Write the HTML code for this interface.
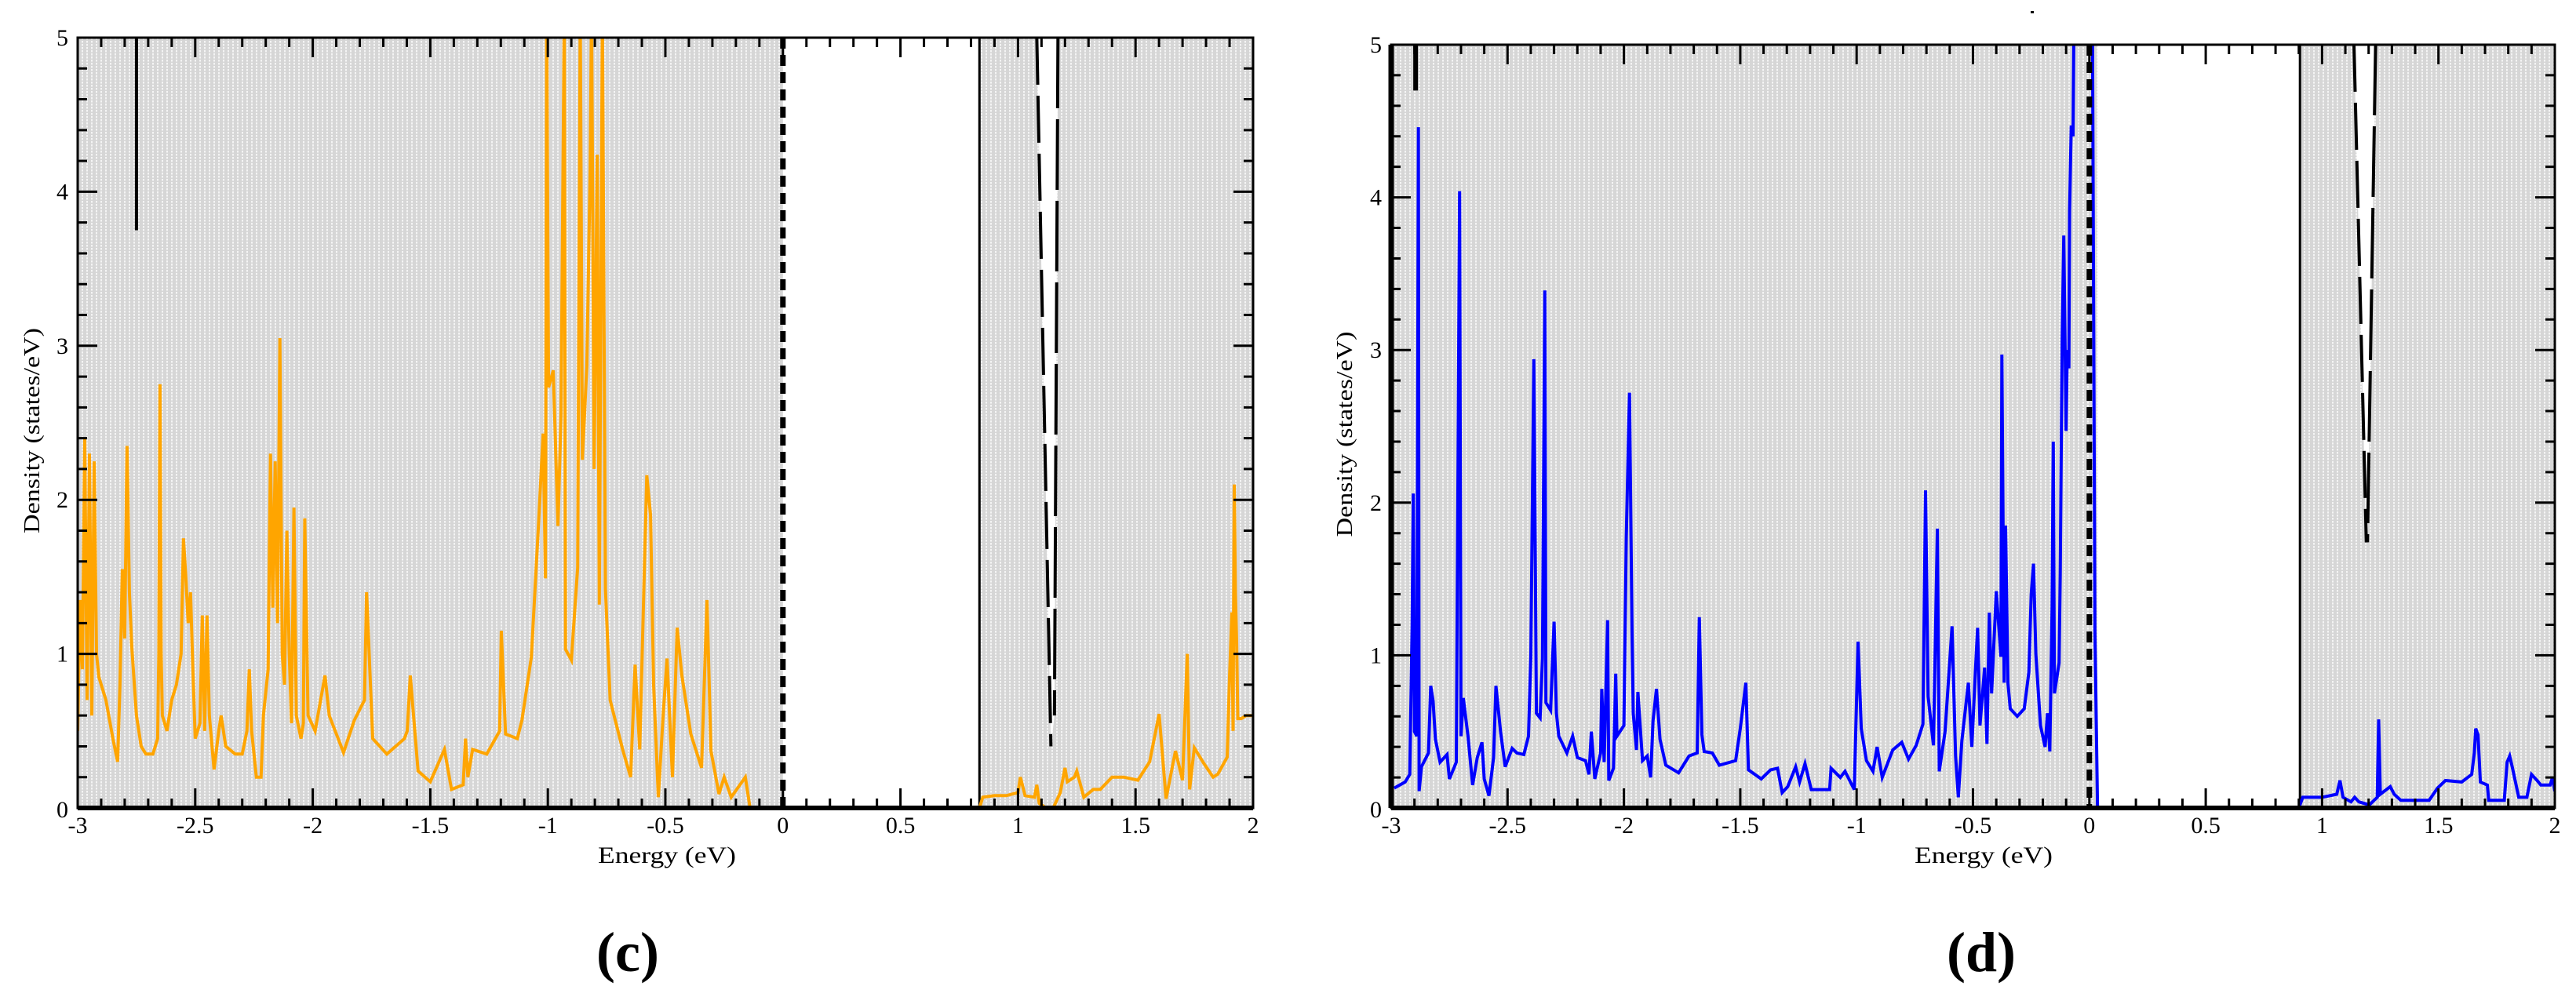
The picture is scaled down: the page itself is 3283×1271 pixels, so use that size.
<!DOCTYPE html>
<html><head><meta charset="utf-8"><style>
html,body{margin:0;padding:0;background:#fff;}
svg{display:block;}
</style></head><body>
<svg id="fig" width="3283" height="1271" viewBox="0 0 3283 1271" xmlns="http://www.w3.org/2000/svg">
<defs>
<pattern id="stip" width="6" height="4" patternUnits="userSpaceOnUse">
<rect width="6" height="4" fill="#d6d6d6"/><rect x="2" y="0" width="2" height="2" fill="#f4f4f4"/><rect x="2" y="2" width="2" height="1" fill="#e6e6e6"/>
</pattern>
</defs>
</svg>
<script>
// ---------- data ----------
const xTickLabels = ["-3","-2.5","-2","-1.5","-1","-0.5","0","0.5","1","1.5","2"];
const xTickValues = [-3,-2.5,-2,-1.5,-1,-0.5,0,0.5,1,1.5,2];
const yTickLabels = ["0","1","2","3","4","5"];
const yTickValues = [0,1,2,3,4,5];

const cE = [-3.00,-2.99,-2.98,-2.97,-2.96,-2.95,-2.94,-2.93,-2.92,-2.91,-2.88,-2.85,-2.83,-2.82,-2.81,-2.80,-2.79,-2.78,-2.77,-2.75,-2.73,-2.71,-2.68,-2.66,-2.655,-2.65,-2.645,-2.64,-2.62,-2.60,-2.58,-2.56,-2.55,-2.54,-2.53,-2.52,-2.51,-2.50,-2.48,-2.47,-2.46,-2.45,-2.44,-2.42,-2.40,-2.39,-2.37,-2.33,-2.30,-2.28,-2.27,-2.26,-2.24,-2.22,-2.21,-2.19,-2.18,-2.17,-2.16,-2.15,-2.14,-2.13,-2.12,-2.11,-2.10,-2.09,-2.08,-2.07,-2.05,-2.04,-2.034,-2.02,-1.99,-1.948,-1.93,-1.869,-1.823,-1.78,-1.771,-1.745,-1.685,-1.61,-1.598,-1.585,-1.552,-1.50,-1.44,-1.41,-1.36,-1.35,-1.34,-1.32,-1.26,-1.205,-1.198,-1.18,-1.13,-1.11,-1.07,-1.04,-1.02,-1.01,-1.005,-0.997,-0.977,-0.957,-0.944,-0.93,-0.925,-0.90,-0.873,-0.862,-0.853,-0.834,-0.82,-0.814,-0.803,-0.79,-0.781,-0.768,-0.755,-0.735,-0.682,-0.648,-0.629,-0.609,-0.579,-0.563,-0.55,-0.53,-0.51,-0.493,-0.47,-0.45,-0.43,-0.392,-0.346,-0.323,-0.306,-0.272,-0.25,-0.22,-0.16,-0.14,
 null,
 0.836,0.85,0.90,0.95,1.00,1.01,1.03,1.07,1.08,1.09,1.12,1.15,1.18,1.20,1.21,1.24,1.25,1.28,1.32,1.35,1.40,1.45,1.51,1.56,1.60,1.63,1.67,1.70,1.72,1.73,1.75,1.79,1.83,1.85,1.89,1.90,1.91,1.915,1.92,1.925,1.93,1.935,1.95,1.97,2.00];
const cD = [0.5,1.35,0.9,2.4,0.7,2.3,0.6,2.25,1.0,0.85,0.7,0.45,0.3,0.8,1.55,1.1,2.35,1.4,1.05,0.6,0.4,0.35,0.35,0.45,1.0,2.75,1.0,0.6,0.5,0.7,0.8,1.0,1.75,1.5,1.2,1.4,0.9,0.45,0.55,1.25,0.5,1.25,0.6,0.25,0.5,0.6,0.4,0.35,0.35,0.5,0.9,0.5,0.2,0.2,0.6,0.9,2.3,1.3,2.25,1.2,3.05,1.0,0.8,1.8,1.0,0.55,1.95,0.6,0.45,0.55,1.88,0.6,0.5,0.86,0.6,0.36,0.57,0.7,1.40,0.45,0.35,0.45,0.50,0.86,0.24,0.17,0.38,0.12,0.15,0.45,0.2,0.38,0.35,0.5,1.15,0.48,0.45,0.57,0.98,1.83,2.43,1.49,5.2,2.73,2.84,1.83,2.55,5.2,1.03,0.96,1.56,5.2,2.26,2.87,4.14,5.2,2.2,4.24,1.32,5.2,1.42,0.7,0.38,0.2,0.93,0.38,2.16,1.9,0.8,0.07,0.59,0.97,0.2,1.17,0.86,0.48,0.26,1.35,0.37,0.09,0.2,0.07,0.2,0.0,
 null,
 0.0,0.07,0.08,0.08,0.1,0.2,0.08,0.07,0.15,0.03,0.0,0.0,0.1,0.26,0.17,0.2,0.24,0.07,0.12,0.12,0.2,0.2,0.18,0.3,0.61,0.06,0.37,0.18,1.0,0.12,0.39,0.29,0.2,0.22,0.33,0.85,1.27,0.5,2.1,1.39,1.08,0.58,0.58,0.6,0.6];

const dE = [-2.987,-2.94,-2.92,-2.91,-2.905,-2.90,-2.89,-2.883,-2.88,-2.87,-2.84,-2.83,-2.82,-2.81,-2.79,-2.76,-2.75,-2.72,-2.706,-2.70,-2.69,-2.67,-2.65,-2.63,-2.61,-2.60,-2.58,-2.56,-2.55,-2.53,-2.51,-2.48,-2.46,-2.43,-2.41,-2.40,-2.387,-2.376,-2.36,-2.35,-2.34,-2.335,-2.315,-2.30,-2.29,-2.28,-2.245,-2.22,-2.20,-2.165,-2.15,-2.14,-2.125,-2.10,-2.095,-2.085,-2.07,-2.065,-2.045,-2.035,-2.03,-2.0,-1.99,-1.976,-1.965,-1.96,-1.946,-1.94,-1.92,-1.90,-1.885,-1.875,-1.86,-1.845,-1.82,-1.765,-1.72,-1.685,-1.676,-1.665,-1.655,-1.62,-1.59,-1.52,-1.50,-1.476,-1.465,-1.41,-1.37,-1.34,-1.32,-1.296,-1.262,-1.245,-1.222,-1.195,-1.116,-1.11,-1.07,-1.05,-1.01,-0.994,-0.98,-0.958,-0.93,-0.912,-0.89,-0.845,-0.806,-0.777,-0.744,-0.715,-0.704,-0.693,-0.67,-0.653,-0.645,-0.62,-0.59,-0.575,-0.563,-0.548,-0.52,-0.505,-0.49,-0.48,-0.47,-0.45,-0.44,-0.43,-0.42,-0.40,-0.38,-0.376,-0.366,-0.36,-0.35,-0.34,-0.31,-0.28,-0.26,-0.25,-0.24,-0.23,-0.21,-0.19,-0.18,-0.17,-0.16,-0.155,-0.15,-0.13,-0.125,-0.117,-0.11,-0.10,-0.095,-0.088,-0.085,-0.078,-0.07,-0.066,0.013,0.024,0.035,
 null,
 0.90,0.917,0.94,1.0,1.063,1.077,1.09,1.124,1.14,1.158,1.203,1.237,1.243,1.25,1.293,1.31,1.338,1.46,1.496,1.53,1.60,1.643,1.654,1.66,1.67,1.68,1.71,1.716,1.783,1.795,1.806,1.817,1.845,1.88,1.90,1.924,1.94,1.98,1.99,2.0];
const dD = [0.13,0.17,0.22,1.19,2.06,0.5,0.47,4.46,0.11,0.27,0.36,0.8,0.7,0.45,0.3,0.35,0.19,0.3,4.04,0.47,0.72,0.47,0.15,0.33,0.43,0.19,0.08,0.33,0.8,0.5,0.27,0.39,0.36,0.35,0.47,1.0,2.94,0.62,0.59,0.98,3.39,0.69,0.64,1.22,0.62,0.47,0.36,0.47,0.33,0.31,0.22,0.5,0.19,0.36,0.78,0.3,1.23,0.18,0.26,0.88,0.47,0.54,1.77,2.72,1.14,0.62,0.38,0.76,0.31,0.34,0.2,0.57,0.78,0.45,0.28,0.23,0.34,0.36,1.25,0.48,0.37,0.36,0.28,0.31,0.52,0.82,0.25,0.19,0.25,0.26,0.1,0.14,0.27,0.17,0.29,0.12,0.12,0.26,0.2,0.24,0.12,1.09,0.52,0.31,0.24,0.4,0.2,0.38,0.43,0.32,0.41,0.55,2.08,0.73,0.41,1.83,0.24,0.5,1.19,0.34,0.07,0.44,0.82,0.4,0.89,1.18,0.54,0.92,0.42,1.28,0.75,1.42,0.99,2.97,0.82,1.85,0.82,0.65,0.6,0.65,0.89,1.4,1.6,1.01,0.54,0.4,0.62,0.37,1.32,2.4,0.75,0.95,1.54,3.05,3.75,2.47,3.0,2.88,3.91,4.47,4.4,5.2,5.2,1.16,0.0,
 null,
 0.0,0.07,0.07,0.07,0.09,0.18,0.07,0.04,0.07,0.04,0.02,0.07,0.58,0.09,0.14,0.09,0.05,0.05,0.13,0.18,0.17,0.22,0.36,0.52,0.48,0.17,0.15,0.05,0.05,0.3,0.34,0.27,0.07,0.07,0.22,0.18,0.15,0.15,0.2,0.11];

// ---------- drawing ----------
const NS = "http://www.w3.org/2000/svg";
const svg = document.getElementById('fig');
function mk(tag, attrs, parent){
  const e = document.createElementNS(NS, tag);
  for (const k in attrs) e.setAttribute(k, attrs[k]);
  (parent||svg).appendChild(e);
  return e;
}

const panels = [
  {id:'c', x0:99, x1:1597, yT:48, yB:1030, color:'#ffa500', E:cE, D:cD,
   gray:[[-3,0],[0.836,2]], vline:0.836, dashX:0,
   wedge:[[1.08,5],[1.17,5],[1.155,0.6],[1.14,0.4]],
   blk:[-2.75,3.75], label:'(c)', labelX:800, ytitleX:40, xtitleX:850},
  {id:'d', x0:1773, x1:3256, yT:57, yB:1030, color:'#0000ff', E:dE, D:dD,
   gray:[[-3,0.035],[0.9,2]], vline:0.905, dashX:0,
   wedge:[[1.137,5],[1.23,5],[1.195,1.74],[1.19,1.74]],
   blk:[-2.895,4.7], label:'(d)', labelX:2525, ytitleX:1713, xtitleX:2528}
];

panels.forEach(p=>{
  const sx = e => p.x0 + (e+3)/5*(p.x1-p.x0);
  const sy = d => p.yB - d/5*(p.yB-p.yT);
  const g = mk('g',{});
  
  
  const clipId='clip'+p.id;
  const cp = mk('clipPath',{id:clipId},g);
  mk('rect',{x:p.x0,y:p.yT,width:p.x1-p.x0,height:p.yB-p.yT},cp);

  p.gray.forEach(r=>{
    const rr = mk('rect',{x:sx(r[0]),y:p.yT,width:sx(r[1])-sx(r[0]),height:p.yB-p.yT,fill:'url(#stip)'},g);
    
    
  });
  const w = p.wedge;
  const wp = mk('polygon',{points:w.map(q=>sx(q[0])+','+sy(q[1])).join(' '),fill:'#fff',stroke:'none'},g);
  
  
  const wl1 = mk('polyline',{points:[w[0],w[3]].map(q=>sx(q[0])+','+sy(q[1])).join(' '),stroke:'#000','stroke-width':4,fill:'none','stroke-dasharray':'60 14'},g);
  
  
  const wl2 = mk('polyline',{points:[w[1],w[2]].map(q=>sx(q[0])+','+sy(q[1])).join(' '),stroke:'#000','stroke-width':4,fill:'none','stroke-dasharray':'90 14'},g);
  
  
  const vl = mk('line',{x1:sx(p.vline),x2:sx(p.vline),y1:p.yT,y2:p.yB,stroke:'#000','stroke-width':3},g);
  
  
  const bl = mk('line',{x1:sx(p.blk[0]),x2:sx(p.blk[0]),y1:p.yT,y2:sy(p.blk[1]),stroke:'#000','stroke-width':p.id==='d'?6:4},g);
  
  

  let d='', pen=false;
  for(let i=0;i<p.E.length;i++){
    if(p.E[i]===null){pen=false;continue;}
    d += (pen?'L':'M') + sx(p.E[i]).toFixed(1)+','+sy(p.D[i]).toFixed(1);
    pen=true;
  }
  const s = mk('path',{d:d,fill:'none',stroke:p.color,'stroke-width':4,'stroke-linejoin':'miter','clip-path':'url(#'+clipId+')'},g);
  
  

  const fl = mk('line',{x1:sx(p.dashX),x2:sx(p.dashX),y1:p.yT,y2:p.yB,stroke:'#000','stroke-width':7,'stroke-dasharray':'14 8'},g);
  
  

  const fr = mk('rect',{x:p.x0,y:p.yT,width:p.x1-p.x0,height:p.yB-p.yT,fill:'none',stroke:'#000','stroke-width':3},g);
  
  
  const ax = mk('line',{x1:p.x0,x2:p.x1,y1:p.yB,y2:p.yB,stroke:'#000','stroke-width':6},g);
  
  
  if(p.id==='d'){
    const ay = mk('line',{x1:p.x0,x2:p.x0,y1:p.yT,y2:p.yB,stroke:'#000','stroke-width':7},g);
    
    
  }

  let tk='';
  for(let i=0;i<=50;i++){
    const e=-3+i*0.1, x=sx(e), L=(i%5===0)?25:12;
    tk+=`M${x},${p.yB}v${-L}M${x},${p.yT}v${L}`;
  }
  for(let i=0;i<=25;i++){
    const v=i*0.2, y=sy(v), L=(i%5===0)?25:12;
    tk+=`M${p.x0},${y}h${L}M${p.x1},${y}h${-L}`;
  }
  const tp = mk('path',{d:tk,stroke:'#000','stroke-width':3,fill:'none'},g);
  
  

  xTickValues.forEach((v,i)=>{
    const t = mk('text',{x:sx(v),y:p.yB+32,'font-family':'Liberation Serif, serif','font-size':30,'text-anchor':'middle',fill:'#000'},g);
    t.textContent = xTickLabels[i];
    
    
  });
  yTickValues.forEach((v,i)=>{
    const t = mk('text',{x:p.x0-12,y:sy(v)+(v===0?12:10),'font-family':'Liberation Serif, serif','font-size':30,'text-anchor':'end',fill:'#000'},g);
    t.textContent = yTickLabels[i];
    
    
  });
  const yt = mk('text',{x:0,y:0,'font-family':'Liberation Serif, serif','font-size':28,'text-anchor':'middle',fill:'#000',
     transform:`translate(${p.ytitleX+10},${(p.yT+p.yB)/2+10}) rotate(-90)`,textLength:262,lengthAdjust:'spacingAndGlyphs'},g);
  yt.textContent='Density (states/eV)';
  
  
  const xt = mk('text',{x:p.xtitleX,y:1100,'font-family':'Liberation Serif, serif','font-size':30,'text-anchor':'middle',fill:'#000',textLength:176,lengthAdjust:'spacingAndGlyphs'},g);
  xt.textContent='Energy (eV)';
  
  
  const lb = mk('text',{x:p.labelX,y:1238,'font-family':'Liberation Serif, serif','font-size':72,'font-weight':'bold','text-anchor':'middle',fill:'#000'},g);
  lb.textContent=p.label;
  
  
});
const dot = mk('rect',{x:2588,y:14,width:4,height:3,fill:'#000'});


</script>
</body></html>
